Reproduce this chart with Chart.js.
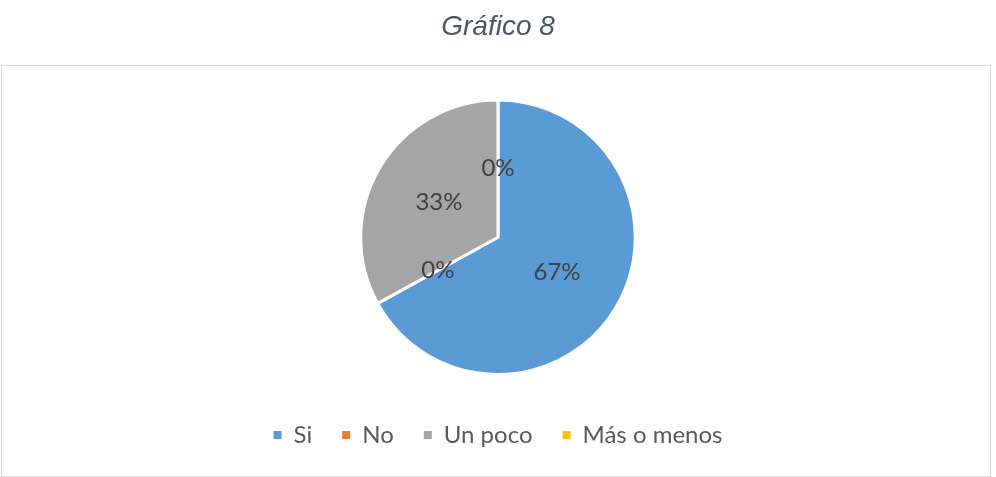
<!DOCTYPE html>
<html>
<head>
<meta charset="utf-8">
<script src="https://cdn.jsdelivr.net/npm/chart.js@4/dist/chart.umd.min.js"></script>
<style>
  html, body { margin: 0; padding: 0; background: #fff; }
  #wrap { position: relative; width: 996px; height: 477px; }
  #frame { position: absolute; left: 1px; top: 65px; width: 988px; height: 410px; border: 1px solid #d9d9d9; }
  canvas { position: absolute; left: 0; top: 0; }
</style>
</head>
<body>
<div id="wrap">
  <div id="frame"></div>
  <canvas id="chart" width="996" height="477"></canvas>
</div>
<script>
// data
const categories = ['Si', 'No', 'Un poco', 'Más o menos'];
const values = [67, 0, 33, 0];
const colors = ['#5b9bd5', '#ed7d31', '#a5a5a5', '#ffc000'];

const labelFont = 'Lato, Carlito, "Liberation Sans", sans-serif';

// percentages drawn in the middle of each slice (Excel style)
const pieLabels = {
  id: 'pieLabels',
  afterDatasetsDraw(chart) {
    const ctx = chart.ctx;
    const total = values.reduce((a, b) => a + b, 0);
    const meta = chart.getDatasetMeta(0);
    ctx.save();
    ctx.font = '24px ' + labelFont;
    ctx.fillStyle = '#404040';
    ctx.textAlign = 'center';
    ctx.textBaseline = 'middle';
    meta.data.forEach((arc, i) => {
      const pos = arc.tooltipPosition();
      const pct = Math.round(values[i] / total * 100) + '%';
      ctx.fillText(pct, pos.x, pos.y);
    });
    ctx.restore();
  }
};

new Chart(document.getElementById('chart'), {
  type: 'pie',
  data: {
    labels: categories,
    datasets: [{
      data: values,
      backgroundColor: colors,
      borderColor: '#ffffff',
      borderWidth: 3,
      radius: '89%'
    }]
  },
  options: {
    responsive: false,
    animation: false,
    layout: { padding: { bottom: 20 } },
    plugins: {
      title: {
        display: true,
        text: 'Gráfico 8',
        color: '#4a5568',
        font: { family: '"Liberation Sans", Arial, sans-serif', size: 28, style: 'italic', weight: 'normal' },
        padding: { top: 10, bottom: 38 }
      },
      legend: {
        position: 'bottom',
        labels: {
          color: '#595959',
          font: { family: labelFont, size: 24 },
          boxWidth: 8,
          boxHeight: 8,
          padding: 30,
          // plain squares, without the white slice border
          generateLabels(chart) {
            return Chart.overrides.pie.plugins.legend.labels.generateLabels(chart)
              .map(item => Object.assign(item, { lineWidth: 0, strokeStyle: item.fillStyle }));
          }
        }
      },
      tooltip: { enabled: false }
    }
  },
  plugins: [pieLabels]
});
</script>
</body>
</html>
